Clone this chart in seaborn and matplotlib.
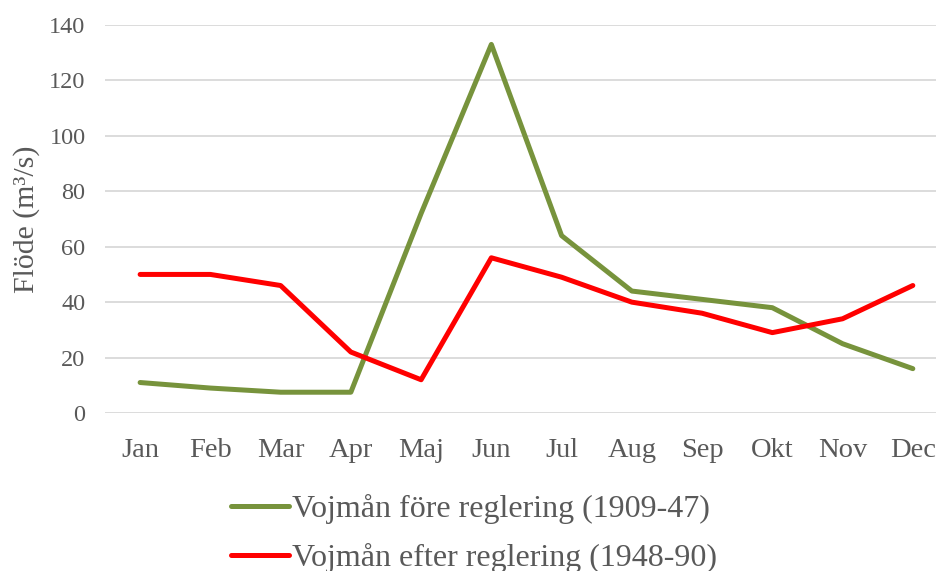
import pandas as pd
import matplotlib.pyplot as plt
import seaborn as sns

months = ["Jan", "Feb", "Mar", "Apr", "Maj", "Jun", "Jul", "Aug", "Sep", "Okt", "Nov", "Dec"]
fore = [11, 9, 7.5, 7.5, 72, 133, 64, 44, 41, 38, 25, 16]
efter = [50, 50, 46, 22, 12, 56, 49, 40, 36, 29, 34, 46]
series = ["Vojmån före reglering (1909-47)", "Vojmån efter reglering (1948-90)"]
colors = ["#77933C", "#FF0000"]

df = pd.DataFrame({
    "month": months * 2,
    "x": list(range(len(months))) * 2,
    "flow": fore + efter,
    "series": [series[0]] * len(months) + [series[1]] * len(months),
})

sns.set_style("white")
plt.rcParams["font.family"] = ["Liberation Serif", "DejaVu Serif"]
text_color = "#595959"

fig = plt.figure(figsize=(9.36, 5.71), dpi=100)
ax = fig.add_axes([105 / 936, (571 - 413) / 571, 1 - 105 / 936, 388 / 571])

sns.lineplot(data=df, x="x", y="flow", hue="series", palette=colors,
             linewidth=3.6, ax=ax, legend=True)

ax.set_xlim(-0.5, 11.33)
ax.set_ylim(0, 140)
ax.set_yticks(range(0, 141, 20))
ax.set_xticks(range(len(months)))
ax.set_xticklabels(months)
ax.grid(axis="y", color="#d9d9d9", linewidth=1.3)
ax.set_axisbelow(True)
for s in ax.spines.values():
    s.set_visible(False)
ax.tick_params(axis="both", length=0, colors=text_color)
ax.tick_params(axis="x", pad=18, labelsize=20.5)
ax.tick_params(axis="y", pad=14, labelsize=17.5)
ax.set_xlabel("")
ax.set_ylabel("Flöde (m³/s)", fontsize=21.5, color=text_color)
ax.yaxis.set_label_coords(-0.078, 0.5)

handles, labels = ax.get_legend_handles_labels()
leg = ax.legend(handles, labels, loc="upper center", bbox_to_anchor=(0.444, -0.135),
                frameon=False, fontsize=23, handlelength=1.8, handletextpad=0.1,
                labelspacing=0.6)
for t in leg.get_texts():
    t.set_color(text_color)

fig.savefig("out.png", dpi=100)
